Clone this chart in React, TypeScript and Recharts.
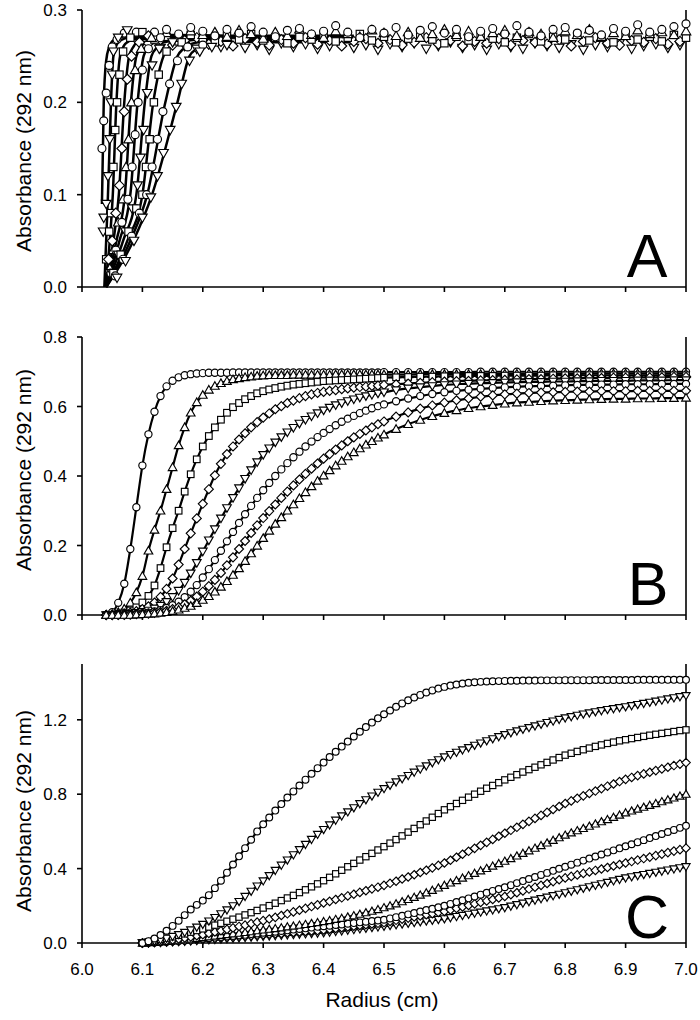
import React from 'react';
import { ComposedChart, Line, XAxis, YAxis } from 'recharts';

const FONT = '"Liberation Sans", Arial, Helvetica, sans-serif';

const X_TICKS = [6.0, 6.1, 6.2, 6.3, 6.4, 6.5, 6.6, 6.7, 6.8, 6.9, 7.0];
const A_TICKS = [0, 0.1, 0.2, 0.3];
const B_TICKS = [0, 0.2, 0.4, 0.6, 0.8];
const C_TICKS = [0, 0.4, 0.8, 1.2];

// ---------------- Panel A: fitted curves ----------------
const A1_X = [6.033, 6.036, 6.040, 6.045, 6.050, 6.060, 6.080, 6.150, 6.300, 6.450];
const A1_Y = [0.090, 0.200, 0.245, 0.260, 0.266, 0.270, 0.272, 0.273, 0.272, 0.272];
const A2_X = [6.037, 6.040, 6.043, 6.046, 6.048, 6.052, 6.056, 6.060, 6.070, 6.080, 6.100, 6.200, 6.450];
const A2_Y = [0.000, 0.050, 0.100, 0.160, 0.200, 0.250, 0.260, 0.265, 0.269, 0.270, 0.271, 0.271, 0.271];
const A3_X = [6.038, 6.046, 6.051, 6.057, 6.063, 6.070, 6.075, 6.085, 6.100, 6.200, 6.450];
const A3_Y = [0.000, 0.050, 0.100, 0.200, 0.250, 0.262, 0.265, 0.268, 0.270, 0.270, 0.270];
const A4_X = [6.039, 6.052, 6.061, 6.070, 6.078, 6.085, 6.090, 6.100, 6.120, 6.200, 6.450];
const A4_Y = [0.000, 0.050, 0.100, 0.200, 0.250, 0.260, 0.265, 0.268, 0.270, 0.270, 0.270];
const A5_X = [6.040, 6.057, 6.071, 6.081, 6.090, 6.098, 6.105, 6.120, 6.140, 6.200, 6.450];
const A5_Y = [0.000, 0.050, 0.100, 0.200, 0.250, 0.260, 0.265, 0.268, 0.269, 0.269, 0.269];
const A6_X = [6.040, 6.062, 6.080, 6.092, 6.102, 6.110, 6.120, 6.140, 6.160, 6.250, 6.450];
const A6_Y = [0.000, 0.050, 0.100, 0.200, 0.250, 0.260, 0.265, 0.268, 0.269, 0.269, 0.268];
const A7_X = [6.040, 6.068, 6.090, 6.104, 6.115, 6.125, 6.135, 6.155, 6.180, 6.250, 6.450];
const A7_Y = [0.000, 0.050, 0.100, 0.200, 0.250, 0.260, 0.265, 0.267, 0.268, 0.268, 0.268];
const A8_X = [6.040, 6.075, 6.100, 6.118, 6.135, 6.145, 6.155, 6.175, 6.200, 6.300, 6.450];
const A8_Y = [0.000, 0.050, 0.100, 0.200, 0.250, 0.260, 0.265, 0.267, 0.268, 0.267, 0.267];
const A9_X = [6.040, 6.080, 6.108, 6.138, 6.158, 6.168, 6.180, 6.200, 6.220, 6.300, 6.450];
const A9_Y = [0.000, 0.050, 0.100, 0.200, 0.250, 0.258, 0.263, 0.266, 0.267, 0.266, 0.266];
const A10_X = [6.040, 6.085, 6.116, 6.158, 6.178, 6.190, 6.200, 6.220, 6.240, 6.300, 6.450];
const A10_Y = [0.000, 0.050, 0.100, 0.200, 0.250, 0.258, 0.262, 0.265, 0.266, 0.265, 0.265];

// ---------------- Panel A: observed points on the rising edge ----------------
const A_OBS_1 = [[6.033, 0.15], [6.036, 0.18], [6.040, 0.21], [6.045, 0.24], [6.050, 0.26], [6.058, 0.268], [6.070, 0.275], [6.090, 0.276]];
const A_OBS_2 = [[6.035, 0.06], [6.036, 0.075], [6.040, 0.09], [6.043, 0.12], [6.046, 0.16], [6.048, 0.2], [6.050, 0.23], [6.052, 0.255], [6.060, 0.27], [6.075, 0.278]];
const A_OBS_3 = [[6.040, 0.03], [6.045, 0.06], [6.048, 0.08], [6.052, 0.13], [6.055, 0.17], [6.058, 0.2], [6.062, 0.23], [6.068, 0.255], [6.080, 0.27], [6.100, 0.276]];
const A_OBS_4 = [[6.044, 0.03], [6.050, 0.05], [6.056, 0.08], [6.062, 0.11], [6.066, 0.15], [6.070, 0.19], [6.075, 0.225], [6.082, 0.25], [6.095, 0.265], [6.110, 0.272]];
const A_OBS_5 = [[6.046, 0.02], [6.052, 0.04], [6.060, 0.07], [6.068, 0.095], [6.073, 0.13], [6.077, 0.16], [6.082, 0.2], [6.088, 0.235], [6.098, 0.258], [6.115, 0.27]];
const A_OBS_6 = [[6.048, 0.015], [6.056, 0.04], [6.066, 0.07], [6.076, 0.095], [6.083, 0.13], [6.088, 0.165], [6.093, 0.2], [6.100, 0.235], [6.110, 0.258], [6.130, 0.27]];
const A_OBS_7 = [[6.050, 0.015], [6.060, 0.035], [6.072, 0.06], [6.083, 0.085], [6.092, 0.11], [6.097, 0.14], [6.102, 0.17], [6.108, 0.21], [6.116, 0.24], [6.128, 0.258], [6.150, 0.265]];
const A_OBS_8 = [[6.052, 0.015], [6.064, 0.035], [6.077, 0.06], [6.090, 0.085], [6.100, 0.1], [6.106, 0.13], [6.112, 0.16], [6.119, 0.2], [6.127, 0.23], [6.140, 0.255], [6.165, 0.265]];
const A_OBS_9 = [[6.055, 0.012], [6.068, 0.03], [6.082, 0.055], [6.095, 0.08], [6.107, 0.1], [6.116, 0.13], [6.125, 0.16], [6.134, 0.19], [6.145, 0.22], [6.158, 0.245], [6.175, 0.26], [6.200, 0.262]];
const A_OBS_10 = [[6.058, 0.01], [6.072, 0.028], [6.086, 0.05], [6.100, 0.075], [6.114, 0.097], [6.125, 0.12], [6.135, 0.145], [6.146, 0.17], [6.156, 0.195], [6.165, 0.22], [6.178, 0.245], [6.195, 0.255], [6.215, 0.26], [6.240, 0.262]];

// ---------------- Panel A: observed points on the plateau ----------------
const A_PX1 = [6.12, 6.14, 6.16, 6.18, 6.20, 6.22, 6.24, 6.26, 6.28, 6.30, 6.32, 6.34, 6.36, 6.38, 6.40, 6.42, 6.44, 6.46, 6.48, 6.50, 6.52, 6.54, 6.56, 6.58, 6.60, 6.62, 6.64, 6.66, 6.68, 6.70, 6.72, 6.74, 6.76, 6.78, 6.80, 6.82, 6.84, 6.86, 6.88, 6.90, 6.92, 6.94, 6.96, 6.98, 7.00];
const A_PX2 = [6.11, 6.13, 6.15, 6.17, 6.19, 6.21, 6.23, 6.25, 6.27, 6.29, 6.31, 6.33, 6.35, 6.37, 6.39, 6.41, 6.43, 6.45, 6.47, 6.49, 6.51, 6.53, 6.55, 6.57, 6.59, 6.61, 6.63, 6.65, 6.67, 6.69, 6.71, 6.73, 6.75, 6.77, 6.79, 6.81, 6.83, 6.85, 6.87, 6.89, 6.91, 6.93, 6.95, 6.97, 6.99];
const A_PLAT_CIRCLE = [0.276, 0.279, 0.274, 0.281, 0.277, 0.272, 0.279, 0.275, 0.282, 0.276, 0.271, 0.278, 0.280, 0.274, 0.277, 0.283, 0.276, 0.270, 0.279, 0.275, 0.281, 0.273, 0.278, 0.282, 0.275, 0.279, 0.271, 0.277, 0.280, 0.274, 0.283, 0.276, 0.272, 0.279, 0.281, 0.275, 0.278, 0.273, 0.280, 0.277, 0.284, 0.276, 0.279, 0.282, 0.285];
const A_PLAT_TRIDOWN = [0.262, 0.259, 0.264, 0.261, 0.258, 0.263, 0.260, 0.265, 0.259, 0.262, 0.257, 0.264, 0.260, 0.263, 0.258, 0.261, 0.266, 0.259, 0.262, 0.257, 0.263, 0.260, 0.264, 0.258, 0.261, 0.265, 0.259, 0.262, 0.257, 0.263, 0.260, 0.258, 0.264, 0.261, 0.259, 0.263, 0.257, 0.262, 0.260, 0.264, 0.258, 0.261, 0.263, 0.259, 0.262];
const A_PLAT_SQUARE = [0.268, 0.271, 0.266, 0.273, 0.269, 0.265, 0.272, 0.268, 0.274, 0.267, 0.270, 0.264, 0.271, 0.268, 0.273, 0.266, 0.270, 0.274, 0.267, 0.271, 0.265, 0.269, 0.273, 0.268, 0.264, 0.271, 0.267, 0.272, 0.269, 0.265, 0.270, 0.274, 0.266, 0.271, 0.268, 0.273, 0.267, 0.270, 0.265, 0.272, 0.268, 0.271, 0.266, 0.273, 0.270];
const A_PLAT_DIAMOND = [0.264, 0.268, 0.262, 0.267, 0.270, 0.263, 0.266, 0.261, 0.269, 0.265, 0.262, 0.268, 0.264, 0.270, 0.263, 0.267, 0.261, 0.266, 0.269, 0.264, 0.268, 0.262, 0.265, 0.270, 0.263, 0.267, 0.261, 0.266, 0.264, 0.269, 0.262, 0.267, 0.265, 0.263, 0.268, 0.261, 0.266, 0.270, 0.264, 0.262, 0.267, 0.265, 0.269, 0.263, 0.266];
const A_PLAT_TRIUP = [0.272, 0.275, 0.270, 0.277, 0.273, 0.276, 0.271, 0.278, 0.274, 0.269, 0.276, 0.272, 0.279, 0.273, 0.270, 0.277, 0.274, 0.271, 0.278, 0.275, 0.272, 0.276, 0.270, 0.274, 0.279, 0.273, 0.277, 0.271, 0.275, 0.278, 0.272, 0.276, 0.274, 0.270, 0.277, 0.273, 0.279, 0.271, 0.275, 0.272, 0.278, 0.274, 0.276, 0.273, 0.277];

// ---------------- Panel B ----------------
const B_R = [
  6.04, 6.05, 6.06, 6.07, 6.08, 6.09, 6.10, 6.11, 6.12, 6.13,
  6.14, 6.15, 6.16, 6.17, 6.18, 6.19, 6.20, 6.21, 6.22, 6.23,
  6.24, 6.25, 6.26, 6.27, 6.28, 6.29, 6.30, 6.31, 6.32, 6.33,
  6.34, 6.35, 6.36, 6.37, 6.38, 6.39, 6.40, 6.41, 6.42, 6.43,
  6.44, 6.45, 6.46, 6.47, 6.48, 6.49, 6.50,
  6.52, 6.54, 6.56, 6.58, 6.60, 6.62, 6.64, 6.66, 6.68, 6.70, 6.72, 6.74, 6.76, 6.78, 6.80, 6.82, 6.84, 6.86, 6.88, 6.90, 6.92, 6.94, 6.96, 6.98, 7.00,
];
const B1 = [
  0.000, 0.008, 0.035, 0.090, 0.190, 0.310, 0.430, 0.520, 0.585, 0.630,
  0.658, 0.674, 0.684, 0.690, 0.693, 0.695, 0.696, 0.697, 0.697, 0.697,
  0.697, 0.698, 0.698, 0.698, 0.698, 0.698, 0.698, 0.698, 0.698, 0.698,
  0.698, 0.698, 0.698, 0.698, 0.698, 0.698, 0.698, 0.698, 0.698, 0.698,
  0.698, 0.698, 0.698, 0.698, 0.698, 0.698, 0.699,
  0.699, 0.699, 0.699, 0.699, 0.699, 0.699, 0.699, 0.700, 0.700, 0.700, 0.700, 0.700, 0.700, 0.700, 0.700, 0.700, 0.700, 0.700, 0.700, 0.700, 0.700, 0.700, 0.700, 0.700, 0.700,
];
const B2 = [
  0.000, 0.002, 0.008, 0.018, 0.035, 0.065, 0.112, 0.185, 0.245, 0.300,
  0.362, 0.425, 0.488, 0.540, 0.582, 0.612, 0.633, 0.648, 0.659, 0.667,
  0.673, 0.678, 0.681, 0.684, 0.686, 0.688, 0.689, 0.690, 0.690, 0.690,
  0.690, 0.691, 0.691, 0.691, 0.691, 0.691, 0.691, 0.691, 0.692, 0.692,
  0.692, 0.692, 0.692, 0.692, 0.692, 0.692, 0.692,
  0.692, 0.692, 0.693, 0.693, 0.693, 0.693, 0.693, 0.693, 0.694, 0.694, 0.694, 0.694, 0.694, 0.694, 0.694, 0.694, 0.695, 0.695, 0.695, 0.695, 0.695, 0.695, 0.695, 0.695, 0.695,
];
const B3 = [
  0.000, 0.001, 0.003, 0.007, 0.013, 0.022, 0.036, 0.055, 0.085, 0.135,
  0.195, 0.250, 0.300, 0.355, 0.405, 0.448, 0.485, 0.515, 0.540, 0.562,
  0.582, 0.598, 0.610, 0.621, 0.630, 0.638, 0.644, 0.649, 0.653, 0.657,
  0.660, 0.663, 0.665, 0.667, 0.669, 0.671, 0.673, 0.674, 0.675, 0.676,
  0.677, 0.678, 0.679, 0.680, 0.681, 0.682, 0.683,
  0.684, 0.685, 0.686, 0.686, 0.687, 0.687, 0.688, 0.688, 0.688, 0.689, 0.689, 0.689, 0.689, 0.690, 0.690, 0.690, 0.690, 0.690, 0.690, 0.690, 0.690, 0.690, 0.690, 0.690, 0.690,
];
const B4 = [
  0.000, 0.000, 0.002, 0.004, 0.007, 0.011, 0.017, 0.025, 0.036, 0.052,
  0.075, 0.105, 0.145, 0.190, 0.235, 0.278, 0.320, 0.362, 0.402, 0.435,
  0.463, 0.485, 0.505, 0.523, 0.540, 0.555, 0.568, 0.580, 0.592, 0.601,
  0.610, 0.617, 0.624, 0.630, 0.635, 0.639, 0.642, 0.645, 0.647, 0.650,
  0.652, 0.654, 0.656, 0.657, 0.659, 0.660, 0.662,
  0.664, 0.666, 0.668, 0.670, 0.672, 0.673, 0.674, 0.675, 0.676, 0.677, 0.678, 0.679, 0.679, 0.680, 0.681, 0.681, 0.682, 0.682, 0.683, 0.683, 0.684, 0.684, 0.684, 0.685, 0.685,
];
const B5 = [
  0.000, 0.000, 0.001, 0.002, 0.004, 0.006, 0.009, 0.013, 0.019, 0.027,
  0.038, 0.052, 0.070, 0.093, 0.120, 0.150, 0.183, 0.215, 0.247, 0.278,
  0.308, 0.337, 0.365, 0.392, 0.417, 0.440, 0.461, 0.480, 0.497, 0.512,
  0.526, 0.539, 0.551, 0.562, 0.572, 0.581, 0.589, 0.597, 0.604, 0.610,
  0.616, 0.621, 0.626, 0.630, 0.634, 0.638, 0.641,
  0.647, 0.652, 0.656, 0.659, 0.662, 0.664, 0.666, 0.667, 0.668, 0.669, 0.670, 0.671, 0.671, 0.672, 0.672, 0.673, 0.673, 0.674, 0.674, 0.674, 0.675, 0.675, 0.675, 0.676, 0.676,
];
const B6 = [
  0.000, 0.000, 0.000, 0.001, 0.002, 0.003, 0.005, 0.007, 0.010, 0.014,
  0.020, 0.028, 0.038, 0.051, 0.067, 0.086, 0.108, 0.132, 0.158, 0.185,
  0.212, 0.239, 0.265, 0.290, 0.314, 0.337, 0.359, 0.380, 0.400, 0.419,
  0.437, 0.454, 0.470, 0.485, 0.499, 0.512, 0.524, 0.535, 0.546, 0.556,
  0.565, 0.573, 0.581, 0.588, 0.595, 0.601, 0.606,
  0.615, 0.623, 0.630, 0.636, 0.641, 0.645, 0.648, 0.651, 0.653, 0.655, 0.657, 0.658, 0.659, 0.660, 0.661, 0.662, 0.662, 0.663, 0.663, 0.664, 0.664, 0.664, 0.665, 0.665, 0.665,
];
const B7 = [
  0.000, 0.000, 0.000, 0.000, 0.001, 0.002, 0.003, 0.004, 0.006, 0.009,
  0.012, 0.017, 0.023, 0.031, 0.041, 0.053, 0.067, 0.083, 0.101, 0.121,
  0.143, 0.166, 0.190, 0.213, 0.236, 0.258, 0.279, 0.299, 0.318, 0.337,
  0.355, 0.373, 0.390, 0.406, 0.421, 0.436, 0.450, 0.463, 0.476, 0.488,
  0.500, 0.511, 0.521, 0.531, 0.540, 0.549, 0.557,
  0.571, 0.583, 0.594, 0.603, 0.611, 0.618, 0.623, 0.628, 0.632, 0.635, 0.637, 0.639, 0.640, 0.641, 0.642, 0.643, 0.643, 0.644, 0.644, 0.644, 0.645, 0.645, 0.645, 0.645, 0.645,
];
const B8 = [
  0.000, 0.000, 0.000, 0.000, 0.000, 0.001, 0.002, 0.003, 0.004, 0.006,
  0.008, 0.011, 0.015, 0.020, 0.026, 0.034, 0.043, 0.054, 0.067, 0.081,
  0.097, 0.115, 0.134, 0.155, 0.177, 0.199, 0.221, 0.242, 0.262, 0.281,
  0.300, 0.318, 0.336, 0.353, 0.370, 0.386, 0.401, 0.416, 0.430, 0.443,
  0.456, 0.468, 0.479, 0.490, 0.500, 0.510, 0.519,
  0.535, 0.549, 0.561, 0.572, 0.581, 0.589, 0.595, 0.600, 0.604, 0.608, 0.611, 0.613, 0.615, 0.617, 0.618, 0.619, 0.620, 0.621, 0.622, 0.622, 0.623, 0.623, 0.624, 0.624, 0.625,
];

// ---------------- Panel C ----------------
const C_R = [
  6.10, 6.11, 6.12, 6.13, 6.14, 6.15, 6.16, 6.17, 6.18, 6.19,
  6.20, 6.21, 6.22, 6.23, 6.24, 6.25, 6.26, 6.27, 6.28, 6.29,
  6.30, 6.31, 6.32, 6.33, 6.34, 6.35, 6.36, 6.37, 6.38, 6.39,
  6.40, 6.41, 6.42, 6.43, 6.44, 6.45, 6.46, 6.47, 6.48, 6.49,
  6.50, 6.51, 6.52, 6.53, 6.54, 6.55, 6.56, 6.57, 6.58, 6.59,
  6.60, 6.61, 6.62, 6.63, 6.64, 6.65, 6.66, 6.67, 6.68, 6.69,
  6.70, 6.71, 6.72, 6.73, 6.74, 6.75, 6.76, 6.77, 6.78, 6.79,
  6.80, 6.81, 6.82, 6.83, 6.84, 6.85, 6.86, 6.87, 6.88, 6.89,
  6.90, 6.91, 6.92, 6.93, 6.94, 6.95, 6.96, 6.97, 6.98, 6.99,
  7.00,
];
const C1 = [
  0.000, 0.010, 0.024, 0.043, 0.066, 0.092, 0.120, 0.150, 0.180, 0.205,
  0.228, 0.257, 0.295, 0.335, 0.378, 0.422, 0.466, 0.510, 0.555, 0.600,
  0.638, 0.675, 0.712, 0.747, 0.782, 0.815, 0.847, 0.878, 0.910, 0.940,
  0.970, 1.000, 1.028, 1.056, 1.083, 1.110, 1.136, 1.161, 1.185, 1.208,
  1.230, 1.250, 1.270, 1.288, 1.305, 1.320, 1.334, 1.347, 1.358, 1.368,
  1.377, 1.384, 1.390, 1.395, 1.399, 1.402, 1.404, 1.406, 1.407, 1.408,
  1.409, 1.410, 1.410, 1.411, 1.411, 1.411, 1.412, 1.412, 1.412, 1.412,
  1.413, 1.413, 1.413, 1.413, 1.413, 1.414, 1.414, 1.414, 1.414, 1.414,
  1.414, 1.414, 1.415, 1.415, 1.415, 1.415, 1.415, 1.415, 1.415, 1.415,
  1.415,
];
const C2 = [
  0.000, 0.005, 0.010, 0.017, 0.025, 0.035, 0.045, 0.057, 0.070, 0.085,
  0.100, 0.118, 0.137, 0.157, 0.178, 0.200, 0.223, 0.250, 0.278, 0.306,
  0.334, 0.362, 0.390, 0.418, 0.446, 0.474, 0.502, 0.530, 0.557, 0.584,
  0.610, 0.635, 0.660, 0.683, 0.705, 0.727, 0.749, 0.770, 0.790, 0.810,
  0.830, 0.848, 0.866, 0.883, 0.900, 0.918, 0.935, 0.952, 0.969, 0.985,
  1.000, 1.013, 1.025, 1.038, 1.050, 1.063, 1.075, 1.087, 1.098, 1.109,
  1.120, 1.130, 1.140, 1.149, 1.158, 1.167, 1.176, 1.185, 1.193, 1.202,
  1.210, 1.217, 1.224, 1.231, 1.237, 1.243, 1.249, 1.255, 1.260, 1.265,
  1.270, 1.276, 1.282, 1.288, 1.294, 1.300, 1.306, 1.312, 1.318, 1.324,
  1.330,
];
const C3 = [
  0.000, 0.006, 0.012, 0.019, 0.026, 0.033, 0.041, 0.049, 0.058, 0.067,
  0.076, 0.086, 0.096, 0.106, 0.117, 0.128, 0.139, 0.151, 0.163, 0.175,
  0.188, 0.201, 0.214, 0.228, 0.242, 0.256, 0.271, 0.286, 0.302, 0.318,
  0.335, 0.353, 0.372, 0.391, 0.410, 0.428, 0.446, 0.464, 0.482, 0.500,
  0.518, 0.537, 0.556, 0.576, 0.596, 0.616, 0.636, 0.656, 0.676, 0.696,
  0.716, 0.733, 0.750, 0.767, 0.784, 0.800, 0.816, 0.832, 0.847, 0.862,
  0.877, 0.891, 0.905, 0.919, 0.932, 0.945, 0.958, 0.971, 0.984, 0.997,
  1.010, 1.020, 1.030, 1.039, 1.048, 1.057, 1.065, 1.073, 1.080, 1.087,
  1.093, 1.099, 1.105, 1.111, 1.117, 1.122, 1.127, 1.132, 1.137, 1.142,
  1.146,
];
const C4 = [
  0.000, 0.003, 0.006, 0.009, 0.013, 0.017, 0.022, 0.027, 0.033, 0.039,
  0.045, 0.052, 0.059, 0.066, 0.073, 0.081, 0.089, 0.096, 0.104, 0.112,
  0.120, 0.129, 0.138, 0.148, 0.157, 0.167, 0.176, 0.186, 0.196, 0.205,
  0.215, 0.224, 0.234, 0.243, 0.253, 0.262, 0.272, 0.281, 0.291, 0.300,
  0.310, 0.321, 0.332, 0.344, 0.355, 0.367, 0.379, 0.391, 0.404, 0.417,
  0.430, 0.445, 0.461, 0.477, 0.493, 0.509, 0.525, 0.541, 0.557, 0.574,
  0.590, 0.606, 0.622, 0.638, 0.654, 0.670, 0.686, 0.702, 0.718, 0.734,
  0.750, 0.764, 0.778, 0.791, 0.804, 0.817, 0.830, 0.843, 0.855, 0.868,
  0.880, 0.890, 0.900, 0.909, 0.918, 0.927, 0.936, 0.945, 0.954, 0.962,
  0.970,
];
const C5 = [
  0.000, 0.002, 0.004, 0.006, 0.009, 0.012, 0.015, 0.018, 0.021, 0.025,
  0.029, 0.033, 0.037, 0.041, 0.045, 0.049, 0.053, 0.057, 0.061, 0.066,
  0.070, 0.074, 0.078, 0.082, 0.087, 0.091, 0.096, 0.100, 0.105, 0.110,
  0.115, 0.121, 0.127, 0.133, 0.140, 0.147, 0.155, 0.163, 0.171, 0.180,
  0.190, 0.200, 0.211, 0.222, 0.234, 0.246, 0.258, 0.270, 0.283, 0.296,
  0.310, 0.323, 0.336, 0.349, 0.362, 0.375, 0.388, 0.401, 0.414, 0.427,
  0.440, 0.454, 0.468, 0.482, 0.496, 0.510, 0.524, 0.538, 0.552, 0.566,
  0.580, 0.592, 0.604, 0.616, 0.628, 0.640, 0.652, 0.664, 0.676, 0.688,
  0.700, 0.710, 0.720, 0.730, 0.740, 0.750, 0.760, 0.770, 0.780, 0.790,
  0.800,
];
const C6 = [
  0.000, 0.002, 0.003, 0.005, 0.007, 0.009, 0.011, 0.014, 0.017, 0.020,
  0.023, 0.026, 0.029, 0.032, 0.035, 0.038, 0.041, 0.044, 0.048, 0.051,
  0.055, 0.058, 0.061, 0.065, 0.068, 0.072, 0.075, 0.079, 0.083, 0.087,
  0.090, 0.093, 0.097, 0.100, 0.104, 0.107, 0.111, 0.114, 0.118, 0.121,
  0.125, 0.132, 0.139, 0.146, 0.154, 0.161, 0.169, 0.177, 0.184, 0.192,
  0.200, 0.210, 0.220, 0.230, 0.240, 0.250, 0.260, 0.270, 0.280, 0.290,
  0.300, 0.311, 0.322, 0.333, 0.344, 0.355, 0.366, 0.377, 0.388, 0.399,
  0.410, 0.421, 0.432, 0.443, 0.454, 0.465, 0.476, 0.487, 0.498, 0.509,
  0.520, 0.531, 0.542, 0.553, 0.564, 0.575, 0.586, 0.597, 0.608, 0.619,
  0.630,
];
const C7 = [
  0.000, 0.001, 0.003, 0.004, 0.006, 0.008, 0.010, 0.012, 0.014, 0.017,
  0.020, 0.022, 0.025, 0.027, 0.030, 0.032, 0.035, 0.037, 0.040, 0.042,
  0.045, 0.047, 0.050, 0.052, 0.055, 0.057, 0.060, 0.062, 0.065, 0.067,
  0.070, 0.074, 0.078, 0.082, 0.086, 0.090, 0.094, 0.098, 0.102, 0.106,
  0.110, 0.116, 0.122, 0.128, 0.134, 0.140, 0.146, 0.152, 0.158, 0.164,
  0.170, 0.178, 0.186, 0.194, 0.202, 0.210, 0.218, 0.226, 0.234, 0.242,
  0.250, 0.260, 0.270, 0.280, 0.290, 0.300, 0.310, 0.320, 0.330, 0.340,
  0.350, 0.358, 0.366, 0.374, 0.382, 0.390, 0.398, 0.406, 0.414, 0.422,
  0.430, 0.438, 0.446, 0.454, 0.462, 0.470, 0.478, 0.486, 0.494, 0.502,
  0.510,
];
const C8 = [
  0.000, 0.001, 0.002, 0.003, 0.005, 0.006, 0.008, 0.009, 0.011, 0.013,
  0.015, 0.017, 0.019, 0.021, 0.023, 0.025, 0.027, 0.029, 0.031, 0.033,
  0.035, 0.037, 0.039, 0.041, 0.043, 0.045, 0.047, 0.049, 0.051, 0.053,
  0.055, 0.058, 0.062, 0.065, 0.069, 0.072, 0.076, 0.079, 0.083, 0.086,
  0.090, 0.094, 0.098, 0.102, 0.106, 0.110, 0.114, 0.118, 0.122, 0.126,
  0.130, 0.136, 0.142, 0.148, 0.154, 0.160, 0.166, 0.172, 0.178, 0.184,
  0.190, 0.198, 0.206, 0.214, 0.222, 0.230, 0.238, 0.246, 0.254, 0.262,
  0.270, 0.278, 0.286, 0.294, 0.302, 0.310, 0.318, 0.326, 0.334, 0.342,
  0.350, 0.356, 0.362, 0.368, 0.374, 0.380, 0.386, 0.392, 0.398, 0.404,
  0.410,
];

// ---------------- helpers ----------------
type Pt = { x: number; y: number };
const zip = (xs: number[], ys: number[]): Pt[] => xs.map((x, i) => ({ x, y: ys[i] }));
const fromPairs = (arr: number[][]): Pt[] => arr.map(([x, y]) => ({ x, y }));

type Shape = 'circle' | 'square' | 'diamond' | 'triUp' | 'triDown';

function Mark({ cx, cy, shape, r }: { cx: number; cy: number; shape: Shape; r: number }) {
  if (cx == null || cy == null || isNaN(cx) || isNaN(cy)) return <g />;
  const st = { fill: '#fff', stroke: '#000', strokeWidth: 1.15 };
  if (shape === 'circle') return <circle cx={cx} cy={cy} r={r} {...st} />;
  if (shape === 'square') {
    const h = r * 0.92;
    return <rect x={cx - h} y={cy - h} width={2 * h} height={2 * h} {...st} />;
  }
  if (shape === 'diamond') {
    const d = r * 1.25;
    return <polygon points={`${cx},${cy - d} ${cx + d},${cy} ${cx},${cy + d} ${cx - d},${cy}`} {...st} />;
  }
  if (shape === 'triUp') {
    const d = r * 1.2;
    return <polygon points={`${cx},${cy - d} ${cx + d},${cy + d * 0.75} ${cx - d},${cy + d * 0.75}`} {...st} />;
  }
  const d = r * 1.2;
  return <polygon points={`${cx},${cy + d} ${cx + d},${cy - d * 0.75} ${cx - d},${cy - d * 0.75}`} {...st} />;
}

type MarkerSeries = { data: Pt[]; shape: Shape };

const A_MARKERS: MarkerSeries[] = [
  { data: zip(A_PX2, A_PLAT_TRIDOWN), shape: 'triDown' },
  { data: zip(A_PX2, A_PLAT_DIAMOND), shape: 'diamond' },
  { data: zip(A_PX1, A_PLAT_SQUARE), shape: 'square' },
  { data: zip(A_PX1, A_PLAT_TRIUP), shape: 'triUp' },
  { data: zip(A_PX1, A_PLAT_CIRCLE), shape: 'circle' },
  { data: fromPairs(A_OBS_1), shape: 'circle' },
  { data: fromPairs(A_OBS_2), shape: 'triDown' },
  { data: fromPairs(A_OBS_3), shape: 'square' },
  { data: fromPairs(A_OBS_4), shape: 'diamond' },
  { data: fromPairs(A_OBS_5), shape: 'triUp' },
  { data: fromPairs(A_OBS_6), shape: 'circle' },
  { data: fromPairs(A_OBS_7), shape: 'triDown' },
  { data: fromPairs(A_OBS_8), shape: 'square' },
  { data: fromPairs(A_OBS_9), shape: 'circle' },
  { data: fromPairs(A_OBS_10), shape: 'triDown' },
];
const A_LINES: Pt[][] = [
  zip(A1_X, A1_Y), zip(A2_X, A2_Y), zip(A3_X, A3_Y), zip(A4_X, A4_Y), zip(A5_X, A5_Y),
  zip(A6_X, A6_Y), zip(A7_X, A7_Y), zip(A8_X, A8_Y), zip(A9_X, A9_Y), zip(A10_X, A10_Y),
];

const B_SERIES: { y: number[]; shape: Shape }[] = [
  { y: B1, shape: 'circle' }, { y: B2, shape: 'triUp' }, { y: B3, shape: 'square' }, { y: B4, shape: 'diamond' },
  { y: B5, shape: 'triDown' }, { y: B6, shape: 'circle' }, { y: B7, shape: 'diamond' }, { y: B8, shape: 'triUp' },
];
const B_MARKERS: MarkerSeries[] = B_SERIES.map((s) => ({ data: zip(B_R, s.y), shape: s.shape }));
const B_LINES: Pt[][] = B_SERIES.map((s) => zip(B_R, s.y));

const C_SERIES: { y: number[]; shape: Shape }[] = [
  { y: C8, shape: 'triDown' }, { y: C7, shape: 'diamond' }, { y: C6, shape: 'circle' }, { y: C5, shape: 'triUp' },
  { y: C4, shape: 'diamond' }, { y: C3, shape: 'square' }, { y: C2, shape: 'triDown' }, { y: C1, shape: 'circle' },
];
const C_MARKERS: MarkerSeries[] = C_SERIES.map((s) => ({ data: zip(C_R, s.y), shape: s.shape }));
const C_LINES: Pt[][] = C_SERIES.map((s) => zip(C_R, s.y));

const fmt1 = (v: number) => v.toFixed(1);
const blank = () => '';

const AXIS_LINE = { stroke: '#000', strokeWidth: 1.6 };
const TICK_STYLE = { fill: '#000', fontSize: 17, fontFamily: FONT };

type PanelProps = {
  top: number;
  height: number;
  plotTop: number;
  xAxisHeight: number;
  yDomain: [number, number];
  yTicks: number[];
  letter: string;
  letterX: number;
  letterY: number;
  yLabelCenter: number;
  showX: boolean;
  markers: MarkerSeries[];
  lines: Pt[][];
  markerR: number;
  lineW: number;
};

function Panel(p: PanelProps) {
  return (
    <div style={{ position: 'absolute', left: 0, top: p.top }}>
      <ComposedChart width={700} height={p.height} margin={{ top: p.plotTop, right: 0, bottom: 0, left: 0 }}>
        <XAxis
          xAxisId="b"
          type="number"
          dataKey="x"
          domain={[6, 7]}
          ticks={X_TICKS}
          height={p.xAxisHeight}
          tickSize={5}
          tickMargin={15}
          tickFormatter={p.showX ? fmt1 : blank}
          axisLine={AXIS_LINE}
          tickLine={AXIS_LINE}
          tick={TICK_STYLE}
          interval={0}
          label={
            p.showX
              ? () => (
                  <text x={382} y={367} textAnchor="middle" fontSize={21} fontFamily={FONT} fill="#000">
                    Radius (cm)
                  </text>
                )
              : undefined
          }
        />
        <XAxis
          xAxisId="t"
          orientation="top"
          type="number"
          dataKey="x"
          domain={[6, 7]}
          ticks={X_TICKS}
          height={0}
          tickSize={5}
          tickFormatter={blank}
          axisLine={AXIS_LINE}
          tickLine={AXIS_LINE}
          tick={TICK_STYLE}
          interval={0}
        />
        <YAxis
          yAxisId="l"
          type="number"
          domain={p.yDomain}
          ticks={p.yTicks}
          width={82}
          tickSize={5}
          tickMargin={10}
          tickFormatter={fmt1}
          axisLine={AXIS_LINE}
          tickLine={AXIS_LINE}
          tick={TICK_STYLE}
          interval={0}
          label={() => (
            <text
              x={31}
              y={p.yLabelCenter}
              transform={`rotate(-90, 31, ${p.yLabelCenter})`}
              textAnchor="middle"
              fontSize={21}
              fontFamily={FONT}
              fill="#000"
            >
              Absorbance (292 nm)
            </text>
          )}
        />
        <YAxis
          yAxisId="r"
          orientation="right"
          type="number"
          domain={p.yDomain}
          ticks={p.yTicks}
          width={14}
          tickSize={5}
          tickFormatter={blank}
          axisLine={AXIS_LINE}
          tickLine={AXIS_LINE}
          tick={TICK_STYLE}
          interval={0}
          label={() => (
            <text x={p.letterX} y={p.letterY} textAnchor="middle" fontSize={61} fontFamily={FONT} fill="#000">
              {p.letter}
            </text>
          )}
        />
        {p.markers.map((s, i) => (
          <Line
            key={`m${i}`}
            xAxisId="b"
            yAxisId="l"
            data={s.data}
            dataKey="y"
            stroke="none"
            isAnimationActive={false}
            activeDot={false}
            legendType="none"
            dot={(d: any) => <Mark key={`m${i}-${d.index}`} cx={d.cx} cy={d.cy} shape={s.shape} r={p.markerR} />}
          />
        ))}
        {p.lines.map((data, i) => (
          <Line
            key={`l${i}`}
            xAxisId="b"
            yAxisId="l"
            data={data}
            dataKey="y"
            type="monotone"
            stroke="#000"
            strokeWidth={p.lineW}
            dot={false}
            activeDot={false}
            isAnimationActive={false}
            legendType="none"
          />
        ))}
      </ComposedChart>
    </div>
  );
}

export default function App() {
  return (
    <div style={{ position: 'absolute', left: 0, top: 0, width: 700, height: 1020, background: '#fff', overflow: 'hidden' }}>
      <Panel
        top={0}
        height={300}
        plotTop={10}
        xAxisHeight={13}
        yDomain={[0, 0.3]}
        yTicks={A_TICKS}
        letter="A"
        letterX={647}
        letterY={277}
        yLabelCenter={151}
        showX={false}
        markers={A_MARKERS}
        lines={A_LINES}
        markerR={4.0}
        lineW={2.5}
      />
      <Panel
        top={320}
        height={310}
        plotTop={17}
        xAxisHeight={15}
        yDomain={[0, 0.8]}
        yTicks={B_TICKS}
        letter="B"
        letterX={648}
        letterY={285}
        yLabelCenter={150}
        showX={false}
        markers={B_MARKERS}
        lines={B_LINES}
        markerR={3.6}
        lineW={2.2}
      />
      <Panel
        top={640}
        height={380}
        plotTop={24}
        xAxisHeight={77}
        yDomain={[0, 1.5]}
        yTicks={C_TICKS}
        letter="C"
        letterX={647}
        letterY={298}
        yLabelCenter={171}
        showX={true}
        markers={C_MARKERS}
        lines={C_LINES}
        markerR={3.4}
        lineW={2.2}
      />
    </div>
  );
}
